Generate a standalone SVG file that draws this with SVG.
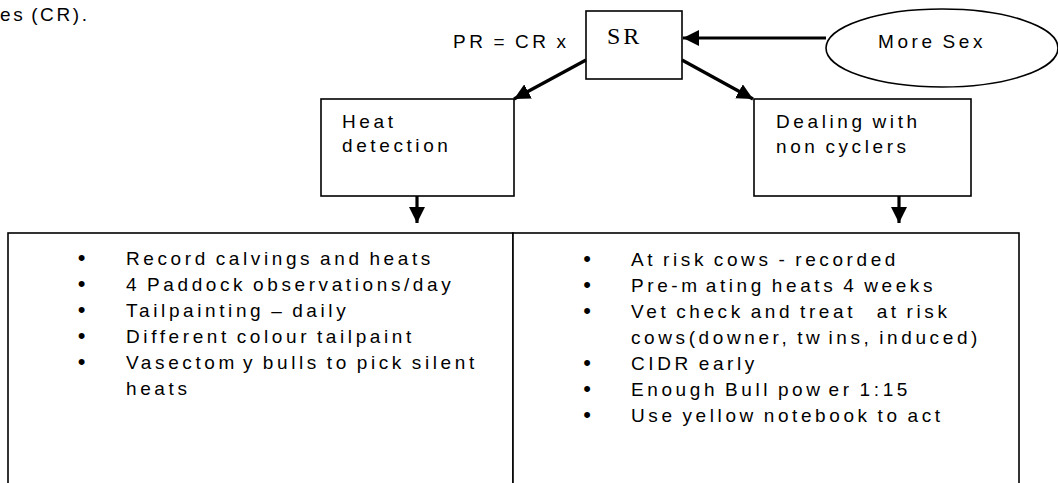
<svg xmlns="http://www.w3.org/2000/svg" width="1058" height="483" viewBox="0 0 1058 483">
<defs>
<style>
.t{font-family:"Liberation Sans",Arial,sans-serif;font-size:19px;letter-spacing:3.6px;word-spacing:-2px;fill:#000}
.sr{font-family:"Liberation Serif","Times New Roman",serif;font-size:24px;letter-spacing:3px;fill:#000}
.box{fill:#fff;stroke:#000;stroke-width:1.6}
.conn{stroke:#000;stroke-width:3.2;fill:none}
.b{text-anchor:middle;font-size:22px;letter-spacing:0}
</style>
<marker id="ah" markerUnits="userSpaceOnUse" markerWidth="16" markerHeight="16" viewBox="0 0 16 16" refX="16" refY="8" orient="auto">
<path d="M0,0 L16,8 L0,16 Z" fill="#000"/>
</marker>
</defs>
<rect width="1058" height="483" fill="#fff"/>
<text class="t" x="0" y="21" style="letter-spacing:2.6px">es (CR).</text>
<text class="t" x="453" y="48">PR = CR x</text>
<g id="sr"><rect class="box" x="586" y="11" width="96" height="68"/><text class="sr" x="607" y="44">SR</text></g>
<g id="moresex"><ellipse class="box" cx="942" cy="48" rx="116" ry="39"/><text class="t" x="878" y="48">More Sex</text></g>
<g id="heat"><rect class="box" x="321" y="99" width="193" height="97"/><text class="t" x="342" y="128">Heat</text><text class="t" x="342" y="152">detection</text></g>
<g id="dealing"><rect class="box" x="754" y="99" width="217" height="97"/><text class="t" x="776" y="128">Dealing with</text><text class="t" x="776" y="153">non cyclers</text></g>
<g id="list-left"><rect class="box" x="8" y="233" width="505" height="260"/>
<g class="t"><text class="b" x="81.5" y="265">•</text><text class="b" x="81.5" y="291">•</text><text class="b" x="81.5" y="317">•</text><text class="b" x="81.5" y="343">•</text><text class="b" x="81.5" y="369">•</text></g>
<text class="t" x="126" y="265">Record calvings and heats</text>
<text class="t" x="126" y="291">4 Paddock observations/day</text>
<text class="t" x="126" y="317">Tailpainting – daily</text>
<text class="t" x="126" y="343">Different colour tailpaint</text>
<text class="t" x="126" y="369">Vasectom<tspan dx="5">y bulls to pick silent</tspan></text>
<text class="t" x="126" y="395">heats</text>
</g>
<g id="list-right"><rect class="box" x="513" y="233" width="506" height="260"/>
<g class="t"><text class="b" x="587" y="266">•</text><text class="b" x="587" y="292">•</text><text class="b" x="587" y="318">•</text><text class="b" x="587" y="370">•</text><text class="b" x="587" y="396">•</text><text class="b" x="587" y="422">•</text></g>
<text class="t" x="631" y="266">At risk cows - recorded</text>
<text class="t" x="631" y="292">Pre-m<tspan dx="5">ating heats 4 weeks</tspan></text>
<text class="t" x="631" y="318" xml:space="preserve">Vet check and treat   at risk</text>
<text class="t" x="631" y="344">cows(downer, tw<tspan dx="5">ins, induced)</tspan></text>
<text class="t" x="631" y="370">CIDR early</text>
<text class="t" x="631" y="396">Enough Bull pow<tspan dx="5">er 1:15</tspan></text>
<text class="t" x="631" y="422">Use yellow notebook to act</text>
</g>
<g id="connectors">
<line class="conn" x1="826" y1="38" x2="683" y2="38" marker-end="url(#ah)"/>
<line class="conn" x1="586" y1="60" x2="514" y2="99" marker-end="url(#ah)"/>
<line class="conn" x1="682" y1="60" x2="753" y2="99" marker-end="url(#ah)"/>
<line class="conn" x1="417" y1="196" x2="417" y2="223" marker-end="url(#ah)"/>
<line class="conn" x1="899" y1="196" x2="899" y2="223" marker-end="url(#ah)"/>
</g>
</svg>
